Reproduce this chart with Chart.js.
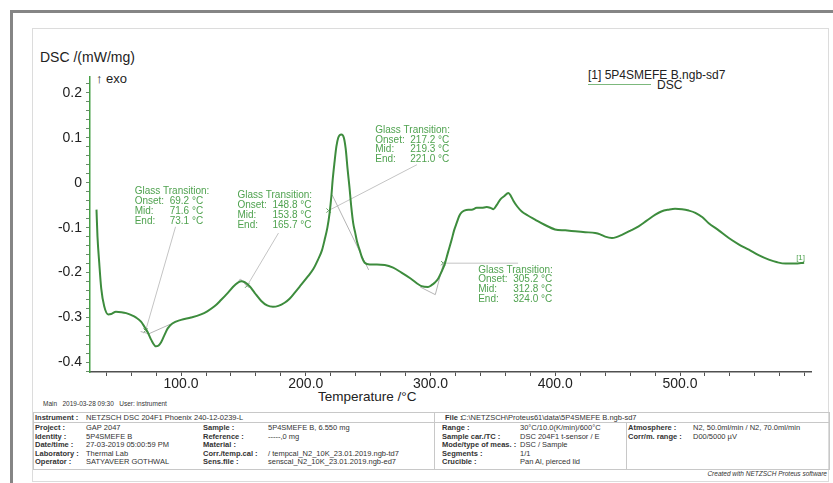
<!DOCTYPE html>
<html>
<head>
<meta charset="utf-8">
<script src="https://cdn.jsdelivr.net/npm/chart.js@4.4.1/dist/chart.umd.min.js"></script>
<style>
body { margin: 0; background: #fff; }
#page { position: relative; width: 833px; height: 483px; overflow: hidden; font-family: "Liberation Sans", Arial, sans-serif; color: #222; }
.t { position: absolute; white-space: nowrap; line-height: 1; }
.bar { position: absolute; background: #858585; }
.ln { position: absolute; background: #c8c8c8; }
#chart { position: absolute; left: 0; top: 0; }
</style>
</head>
<body>
<div id="page">
  <div class="bar" style="left:10px;top:10px;width:823px;height:3px"></div>
  <div class="bar" style="left:10px;top:10px;width:3px;height:473px"></div>
  <div style="position:absolute;left:32px;top:28px;width:795px;height:452px;border:1px solid #dcdcdc"></div>

  <div class="t" style="left:40px;top:50px;font-size:14px">DSC /(mW/mg)</div>
  <div class="t" style="left:96px;top:72px;font-size:13px">↑ exo</div>
  <div class="t" style="left:318px;top:390px;font-size:13.5px">Temperature /°C</div>
  <div class="t" style="left:588px;top:69px;font-size:12px">[1] 5P4SMEFE B.ngb-sd7</div>
  <div style="position:absolute;left:588px;top:84px;width:63px;height:1px;background:#7cb87c"></div>
  <div class="t" style="left:657px;top:79px;font-size:12px">DSC</div>
  <div class="t" style="left:43px;top:401px;font-size:6.5px;color:#333">Main&nbsp;&nbsp;&nbsp;2019-03-28 09:30&nbsp;&nbsp;&nbsp;User: instrument</div>
  <div class="t" style="right:6px;top:471px;font-size:6.5px;font-style:italic;color:#333">Created with NETZSCH Proteus software</div>
  <div id="table"></div>
  <canvas id="chart" width="833" height="483"></canvas>
</div>
<script>
// DSC curve (°C, mW/mg)
const temperature = [32.2, 33.0, 34.4, 36.0, 38.4, 41.6, 44.0, 47.8, 52.0, 56.0, 59.8, 64.0, 67.9, 71.0, 73.2, 76.0, 79.9, 82.0, 84.0, 86.5, 89.3, 93.0,
  100, 108, 116, 121, 126.8, 132, 137.5, 143, 148.2, 151, 154.9, 159, 164.3, 169, 173.7, 178, 183, 187, 191, 196, 201.8, 206, 209.8,
  213, 215.1, 217.3, 219.1, 220.5, 221.5, 223, 224.5, 226, 228.5, 230.5, 232, 233.5, 235, 236.5, 238, 239.5, 241, 243.2, 245, 247.2,
  251.2, 257, 263.3, 270, 276.7, 284, 292.8, 298, 300.8, 303.5, 306.2, 309, 311.5, 314, 316.9, 319, 320.9, 323, 324.9, 327, 330.3,
  333, 337, 341, 345, 348, 350.4, 353, 355.7, 359, 362.4, 364.5, 366.4, 369.5, 373.1, 378, 383.8, 391, 399.8, 408, 415.9, 424, 432,
  436, 440, 445.4, 449, 453.4, 460, 466.8, 473, 480.2, 485, 490.9, 496, 501.6, 507, 512.3, 518, 523, 531, 539.1, 547, 555.2, 563,
  571.2, 578, 584.6, 592, 599.5];
const dscSignal = [-0.06, -0.12, -0.178, -0.235, -0.275, -0.293, -0.292, -0.287, -0.288, -0.29, -0.294, -0.300, -0.309, -0.322, -0.332, -0.349, -0.364, -0.362, -0.355, -0.340, -0.324, -0.313,
  -0.305, -0.300, -0.293, -0.286, -0.275, -0.261, -0.245, -0.228, -0.219, -0.221, -0.230, -0.245, -0.263, -0.273, -0.276, -0.274, -0.267, -0.258, -0.245, -0.228, -0.208, -0.192, -0.171,
  -0.150, -0.127, -0.100, -0.067, -0.030, 0.005, 0.045, 0.080, 0.100, 0.107, 0.100, 0.075, 0.030, -0.010, -0.055, -0.090, -0.110, -0.130, -0.150, -0.166, -0.178,
  -0.182, -0.182, -0.183, -0.189, -0.200, -0.213, -0.230, -0.232, -0.228, -0.222, -0.213, -0.197, -0.180, -0.155, -0.127, -0.105, -0.090, -0.074, -0.066, -0.062, -0.060,
  -0.060, -0.056, -0.056, -0.054, -0.056, -0.059, -0.050, -0.038, -0.030, -0.023, -0.030, -0.040, -0.053, -0.064, -0.073, -0.082, -0.093, -0.104, -0.106, -0.108, -0.110, -0.112,
  -0.115, -0.120, -0.123, -0.121, -0.116, -0.107, -0.097, -0.085, -0.071, -0.064, -0.060, -0.058, -0.059, -0.062, -0.067, -0.077, -0.090, -0.106, -0.123, -0.137, -0.149, -0.161,
  -0.171, -0.177, -0.180, -0.180, -0.178];

// axis ticks
const xMajorTicks = [100, 200, 300, 400, 500];
const yMajorTicks = [0.2, 0.1, 0, -0.1, -0.2, -0.3, -0.4];

// glass transition evaluations
const glassOnset = ['69.2', '148.8', '217.2', '305.2'];
const glassMid = ['71.6', '153.8', '219.3', '312.8'];
const glassEnd = ['73.1', '165.7', '221.0', '324.0'];
const markT = [71.6, 153.0, 218.3, 310.2];
const markDsc = [-0.329, -0.229, -0.062, -0.179];
const labelT = [62.8, 145.2, 255.7, 338.2];
const labelDsc = [-0.020, -0.029, 0.117, -0.194];
const leaderT = [95.6, 178.1, 289.1, 370.2];
const leaderDsc = [-0.098, -0.112, 0.040, -0.179];
const tangentT = [[67.6, 74.2, 91.6], [145, 147.6, 153], [221.1, 250.4], [291.7, 303.8, 310.4]];
const tangentDsc = [[-0.331, -0.336, -0.3145], [-0.223, -0.214, -0.231], [-0.027, -0.194], [-0.232, -0.249, -0.179]];

// measurement info table
const infoLeft = [['Project :', 'GAP 2047'], ['Identity :', '5P4SMEFE B'], ['Date/time :', '27-03-2019 05:00:59 PM'], ['Laboratory :', 'Thermal Lab'], ['Operator :', 'SATYAVEER GOTHWAL']];
const infoMid = [['Sample :', '5P4SMEFE B, 6.550 mg'], ['Reference :', '-----,0 mg'], ['Material :', ''], ['Corr./temp.cal :', ' / tempcal_N2_10K_23.01.2019.ngb-td7'], ['Sens.file :', 'senscal_N2_10K_23.01.2019.ngb-ed7']];
const infoRight = [['Range :', '30°C/10.0(K/min)/600°C'], ['Sample car./TC :', 'DSC 204F1 t-sensor / E'], ['Mode/type of meas. :', 'DSC / Sample'], ['Segments :', '1/1'], ['Crucible :', 'Pan Al, pierced lid']];
const infoFar = [['Atmosphere :', 'N2, 50.0ml/min / N2, 70.0ml/min'], ['Corr/m. range :', 'D00/5000 µV']];

const green = '#3d8c3d';
const textGreen = '#4fa24f';

// table
const tbl = document.getElementById('table');
function put(txt, x, y, bold) {
  const d = document.createElement('div');
  d.className = 't';
  d.style.left = x + 'px';
  d.style.top = (y - 4) + 'px';
  d.style.fontSize = '7.5px';
  d.style.color = '#333';
  if (bold) d.style.fontWeight = 'bold';
  d.textContent = txt;
  tbl.appendChild(d);
}
function rule(x, y, w, h) {
  const d = document.createElement('div');
  d.className = 'ln';
  d.style.left = x + 'px'; d.style.top = y + 'px';
  d.style.width = w + 'px'; d.style.height = h + 'px';
  tbl.appendChild(d);
}
rule(33, 412, 797, 1);
rule(33, 422, 797, 1);
rule(33, 469, 797, 1);
rule(33, 412, 1, 58);
rule(434, 412, 1, 58);
rule(626, 422, 1, 48);
rule(829, 412, 1, 58);
put('Instrument :', 35, 417.5, true);
put('NETZSCH DSC 204F1 Phoenix 240-12-0239-L', 86, 417.5);
put('File :', 445, 417.5, true);
put('C:\\NETZSCH\\Proteus61\\data\\5P4SMEFE B.ngb-sd7', 461, 417.5);
const rowY = [428, 436.5, 445, 453.5, 462];
infoLeft.forEach((r, i) => { put(r[0], 35, rowY[i], true); put(r[1], 86, rowY[i]); });
infoMid.forEach((r, i) => { put(r[0], 203, rowY[i], true); put(r[1], 268, rowY[i]); });
infoRight.forEach((r, i) => { put(r[0], 442, rowY[i], true); put(r[1], 520, rowY[i]); });
infoFar.forEach((r, i) => { put(r[0], 628, rowY[i], true); put(r[1], 693, rowY[i]); });

// datasets
const datasets = [{
  data: temperature.map((t, i) => ({ x: t, y: dscSignal[i] })),
  borderColor: green,
  borderWidth: 2,
  pointRadius: 0,
  cubicInterpolationMode: 'monotone'
}];
tangentT.forEach((ts, k) => {
  datasets.push({
    data: ts.map((t, i) => ({ x: t, y: tangentDsc[k][i] })),
    borderColor: '#b4b4b4', borderWidth: 1, pointRadius: 0, tension: 0
  });
});
markT.forEach((t, k) => {
  datasets.push({
    data: [{ x: leaderT[k], y: leaderDsc[k] }, { x: t, y: markDsc[k] }],
    borderColor: '#c4c4c4', borderWidth: 1, pointRadius: 0, tension: 0
  });
});
datasets.push({
  data: markT.map((t, i) => ({ x: t, y: markDsc[i] })),
  showLine: false,
  pointStyle: 'crossRot',
  pointRadius: 3,
  borderColor: '#5a9a5a',
  borderWidth: 1
});

const glassText = {
  id: 'glassText',
  afterDatasetsDraw(chart) {
    const { ctx, scales: { x, y } } = chart;
    ctx.save();
    ctx.font = '10px "Liberation Sans", Arial, sans-serif';
    ctx.fillStyle = textGreen;
    ctx.textBaseline = 'middle';
    for (let i = 0; i < labelT.length; i++) {
      const px = x.getPixelForValue(labelT[i]);
      const py = y.getPixelForValue(labelDsc[i]);
      ctx.fillText('Glass Transition:', px, py);
      const rows = [['Onset:', glassOnset[i]], ['Mid:', glassMid[i]], ['End:', glassEnd[i]]];
      rows.forEach((r, k) => {
        ctx.fillText(r[0], px, py + 9.8 * (k + 1));
        ctx.fillText(r[1] + ' °C', px + 35, py + 9.8 * (k + 1));
      });
    }
    // curve tag at the end
    const n = temperature.length - 1;
    ctx.font = '8px "Liberation Sans", Arial, sans-serif';
    ctx.textBaseline = 'bottom';
    ctx.fillText('[1]', x.getPixelForValue(temperature[n]) - 8, y.getPixelForValue(dscSignal[n]) - 1);
    ctx.restore();
  }
};

new Chart(document.getElementById('chart'), {
  type: 'line',
  data: { datasets: datasets },
  plugins: [glassText],
  options: {
    responsive: false,
    animation: false,
    devicePixelRatio: 1,
    layout: { padding: { left: 32, top: 77, right: 22, bottom: 81 } },
    plugins: { legend: { display: false }, tooltip: { enabled: false } },
    scales: {
      x: {
        type: 'linear', min: 27, max: 605,
        afterFit: s => { s.height = 30; },
        afterBuildTicks: s => {
          const ticks = [];
          for (let v = 40; v <= 600; v += 20) ticks.push({ value: v });
          s.ticks = ticks;
        },
        border: { color: '#505050', width: 1.5 },
        grid: { drawOnChartArea: false, tickLength: 4, tickColor: '#505050' },
        ticks: {
          autoSkip: false, maxRotation: 0, padding: 0, color: '#222',
          font: { family: '"Liberation Sans", Arial, sans-serif', size: 14 },
          callback: v => xMajorTicks.includes(v) ? v.toFixed(1) : ''
        }
      },
      y: {
        type: 'linear', min: -0.421, max: 0.235,
        afterFit: s => { s.width = 58; },
        afterBuildTicks: s => {
          const ticks = [];
          for (let k = -21; k <= 11; k++) ticks.push({ value: k / 50 });
          s.ticks = ticks;
        },
        border: { color: '#46a046', width: 1.5 },
        grid: { drawOnChartArea: false, tickLength: 4, tickColor: '#6a8a6a' },
        ticks: {
          autoSkip: false, padding: 4, color: '#222',
          font: { family: '"Liberation Sans", Arial, sans-serif', size: 14 },
          callback: v => {
            const m = yMajorTicks.find(t => Math.abs(t - v) < 1e-6);
            return m === undefined ? '' : String(m);
          }
        }
      }
    }
  }
});
</script>
</body>
</html>
